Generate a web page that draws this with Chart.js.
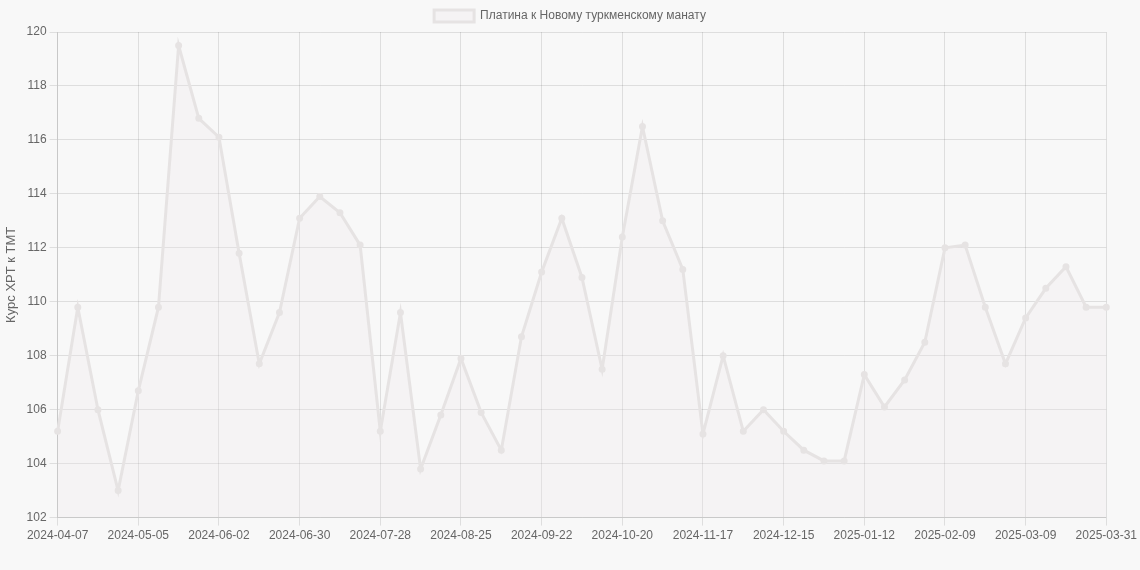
<!DOCTYPE html>
<html>
<head>
<meta charset="utf-8">
<script src="https://cdn.jsdelivr.net/npm/chart.js@4"></script>
<style>
html,body{margin:0;padding:0;background:#f8f8f8;}
#wrap{width:1140px;height:570px;}
</style>
</head>
<body>
<div id="wrap"><canvas id="c"></canvas></div>
<script>
const labels = [
 "2024-04-07","2024-04-14","2024-04-21","2024-04-28","2024-05-05","2024-05-12","2024-05-19","2024-05-26",
 "2024-06-02","2024-06-09","2024-06-16","2024-06-23","2024-06-30","2024-07-07","2024-07-14","2024-07-21",
 "2024-07-28","2024-08-04","2024-08-11","2024-08-18","2024-08-25","2024-09-01","2024-09-08","2024-09-15",
 "2024-09-22","2024-09-29","2024-10-06","2024-10-13","2024-10-20","2024-10-27","2024-11-03","2024-11-10",
 "2024-11-17","2024-11-24","2024-12-01","2024-12-08","2024-12-15","2024-12-22","2024-12-29","2025-01-05",
 "2025-01-12","2025-01-19","2025-01-26","2025-02-02","2025-02-09","2025-02-16","2025-02-23","2025-03-02",
 "2025-03-09","2025-03-16","2025-03-23","2025-03-30","2025-03-31"
];
const rates = [
 105.2,109.8,106.0,103.0,106.7,109.8,119.5,116.8,
 116.1,111.8,107.7,109.6,113.1,113.9,113.3,112.1,
 105.2,109.6,103.8,105.8,107.9,105.9,104.5,108.7,
 111.1,113.1,110.9,107.5,112.4,116.5,113.0,111.2,
 105.1,108.0,105.2,106.0,105.2,104.5,104.1,104.1,
 107.3,106.1,107.1,108.5,112.0,112.1,109.8,107.7,
 109.4,110.5,111.3,109.8,109.8
];
const seriesName = "Платина к Новому туркменскому манату";
const yTitle = "Курс XPT к TMT";

Chart.defaults.font.family = "'Liberation Sans', Arial, sans-serif";
Chart.defaults.font.size = 12;
Chart.defaults.color = "#666";

new Chart(document.getElementById('c'), {
  type: 'line',
  data: {
    labels: labels,
    datasets: [{
      label: seriesName,
      data: rates,
      borderColor: 'rgba(230,227,227,1)',
      backgroundColor: 'rgba(236,228,232,0.25)',
      borderWidth: 3,
      pointRadius: 2,
      pointBackgroundColor: 'rgba(230,227,227,1)',
      pointBorderColor: 'rgba(230,227,227,1)',
      fill: true,
      tension: 0
    }]
  },
  options: {
    responsive: true,
    maintainAspectRatio: false,
    animation: false,
    layout: { padding: { bottom: 24 } },
    plugins: {
      legend: { display: true, labels: { boxWidth: 40, boxHeight: 12 } }
    },
    scales: {
      x: {
        ticks: { maxRotation: 0, autoSkip: true, autoSkipPadding: 20 },
        grid: { color: 'rgba(0,0,0,0.1)' }
      },
      y: {
        min: 102, max: 120,
        ticks: { stepSize: 2 },
        title: { display: true, text: yTitle, font: { size: 13 } },
        grid: { color: 'rgba(0,0,0,0.1)' }
      }
    }
  }
});
</script>
</body>
</html>
